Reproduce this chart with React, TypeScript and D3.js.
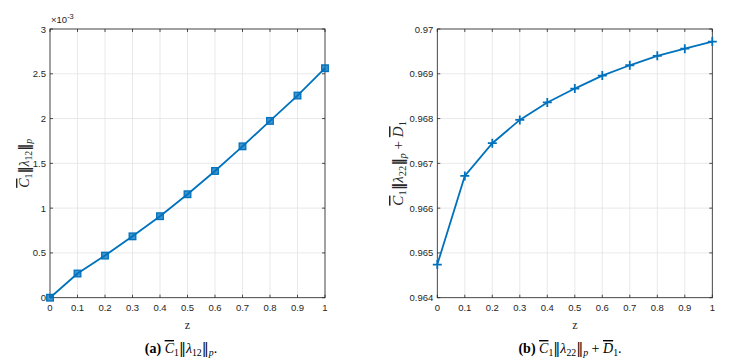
import React from 'react';
import * as d3 from 'd3';

// z values shared by both panels
const zValues = [0, 0.1, 0.2, 0.3, 0.4, 0.5, 0.6, 0.7, 0.8, 0.9, 1];
// panel (a), in units of 1e-3
const normA = [0, 0.27, 0.47, 0.685, 0.91, 1.155, 1.415, 1.69, 1.974, 2.257, 2.562];
// panel (b)
const normB = [0.96474, 0.96672, 0.96745, 0.96797, 0.96836, 0.96867, 0.96896, 0.96919, 0.9694, 0.96956, 0.96972];

const yTicksA = [0, 0.5, 1, 1.5, 2, 2.5, 3];
const yTicksB = [0.964, 0.965, 0.966, 0.967, 0.968, 0.969, 0.97];

const BLUE = '#0072BD';
const AXIS = '#262626';
const GRID = '#e3e3e3';
const tickFont = '"Liberation Sans", Arial, sans-serif';
const mathFont = '"Liberation Serif", "DejaVu Serif", serif';

const Sub = ({ children, italic = false }) => (
    <tspan baselineShift="-25%" fontSize="0.7em" fontStyle={italic ? 'italic' : 'normal'}>{children}</tspan>
);

const Bars = ({ bold = false }) => (
    <tspan fontFamily='"DejaVu Serif", serif' fontWeight={bold ? 'bold' : 'normal'}>‖</tspan>
);

// label pieces: C̄1‖λ12‖p
const NormLabel = ({ idx, bold = false }) => (
    <>
        <tspan fontStyle="italic" textDecoration="overline">C</tspan>
        <Sub>1</Sub>
        <Bars bold={bold} />
        <tspan fontStyle="italic">λ</tspan>
        <Sub>{idx}</Sub>
        <Bars bold={bold} />
        <Sub italic>p</Sub>
    </>
);

const Panel = ({ left, values, yTicks, yDomain, marker, ylabel, caption, exponent }) => {
    const top = 29, bottom = 297.7, w = 275;
    const x = d3.scaleLinear().domain([0, 1]).range([left, left + w]);
    const y = d3.scaleLinear().domain(yDomain).range([bottom, top]);
    const line = d3.line<number>()
        .x((d, i) => x(zValues[i]))
        .y(d => y(d));
    const fmt = d3.format('~g');
    const tl = 3;

    return (
        <g>
            {/* grid */}
            {zValues.map(v => (
                <line key={'gx' + v} x1={x(v)} x2={x(v)} y1={top} y2={bottom} stroke={GRID} strokeWidth={0.8} />
            ))}
            {yTicks.map(v => (
                <line key={'gy' + v} x1={left} x2={left + w} y1={y(v)} y2={y(v)} stroke={GRID} strokeWidth={0.8} />
            ))}
            {/* box */}
            <rect x={left} y={top} width={w} height={bottom - top} fill="none" stroke={AXIS} strokeWidth={0.8} />
            {/* ticks */}
            {zValues.map(v => (
                <g key={'tx' + v}>
                    <line x1={x(v)} x2={x(v)} y1={bottom} y2={bottom - tl} stroke={AXIS} strokeWidth={0.8} />
                    <line x1={x(v)} x2={x(v)} y1={top} y2={top + tl} stroke={AXIS} strokeWidth={0.8} />
                    <text x={x(v)} y={bottom + 13} textAnchor="middle" fontSize={9.5} fontFamily={tickFont} fill={AXIS}>
                        {fmt(v)}
                    </text>
                </g>
            ))}
            {yTicks.map(v => (
                <g key={'ty' + v}>
                    <line x1={left} x2={left + tl} y1={y(v)} y2={y(v)} stroke={AXIS} strokeWidth={0.8} />
                    <line x1={left + w} x2={left + w - tl} y1={y(v)} y2={y(v)} stroke={AXIS} strokeWidth={0.8} />
                    <text x={left - 4} y={y(v) + 3.5} textAnchor="end" fontSize={9.5} fontFamily={tickFont} fill={AXIS}>
                        {fmt(v)}
                    </text>
                </g>
            ))}
            {exponent && (
                <text x={left + 1} y={top - 6} fontSize={9.5} fontFamily={tickFont} fill={AXIS}>
                    ×10<tspan baselineShift="super" fontSize={7.5}>-3</tspan>
                </text>
            )}
            {/* series */}
            <path d={line(values) || ''} fill="none" stroke={BLUE} strokeWidth={1.8} />
            {values.map((v, i) => marker === 'square' ? (
                <rect key={'m' + i} x={x(zValues[i]) - 3.3} y={y(v) - 3.3} width={6.6} height={6.6}
                    fill={BLUE} fillOpacity={0.75} stroke={BLUE} strokeWidth={1.3} />
            ) : (
                <path key={'m' + i} d={`M${x(zValues[i]) - 4.5},${y(v)}h9M${x(zValues[i])},${y(v) - 4.5}v9`}
                    stroke={BLUE} strokeWidth={1.8} />
            ))}
            {/* x label */}
            <text x={left + w / 2} y={bottom + 31} textAnchor="middle" fontSize={12} fontFamily={mathFont} fill={AXIS}>z</text>
            {/* y label */}
            <text transform={`translate(${ylabel.x},${(top + bottom) / 2}) rotate(-90)`} textAnchor="middle"
                fontSize={ylabel.size} fontFamily={mathFont} fill={AXIS}>
                {ylabel.content}
            </text>
            {/* caption */}
            <text x={caption.x} y={353} textAnchor="middle" fontSize={14} fontFamily={mathFont} fill="#000">
                {caption.content}
            </text>
        </g>
    );
};

const App = () => {
    return (
        <svg width={735} height={363} style={{ position: 'absolute', left: 0, top: 0, background: '#fff' }}>
            <Panel
                left={50}
                values={normA}
                yTicks={yTicksA}
                yDomain={[0, 3]}
                marker="square"
                exponent
                ylabel={{ x: 29, size: 14, content: <NormLabel idx="12" bold /> }}
                caption={{ x: 181, content: <><tspan fontWeight="bold">(a)</tspan> <NormLabel idx="12" />.</> }}
            />
            <Panel
                left={437.3}
                values={normB}
                yTicks={yTicksB}
                yDomain={[0.964, 0.97]}
                marker="plus"
                exponent={false}
                ylabel={{
                    x: 403,
                    size: 15,
                    content: <><NormLabel idx="22" bold />{' + '}<tspan fontStyle="italic" textDecoration="overline">D</tspan><Sub>1</Sub></>,
                }}
                caption={{
                    x: 570,
                    content: <><tspan fontWeight="bold">(b)</tspan> <NormLabel idx="22" />{' + '}<tspan fontStyle="italic" textDecoration="overline">D</tspan><Sub>1</Sub>.</>,
                }}
            />
        </svg>
    );
};

export default App;
